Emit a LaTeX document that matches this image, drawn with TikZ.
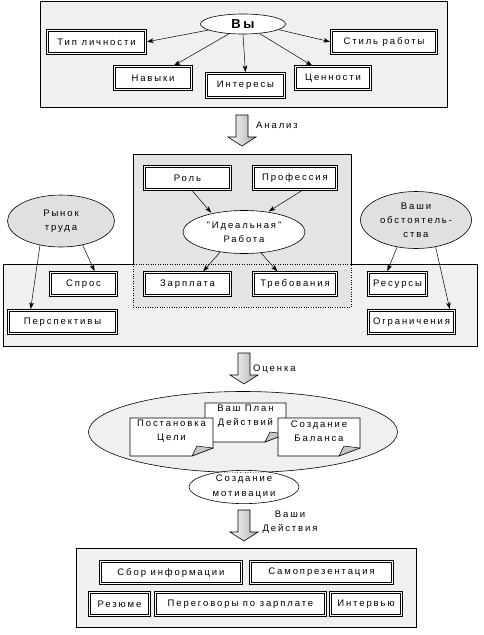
\documentclass[tikz,border=0pt]{standalone}
\usepackage{fontspec}
\setmainfont{Liberation Sans}[LetterSpace=20]
\usepackage{xcolor}
\usetikzlibrary{arrows,arrows.meta,shapes.geometric}
\definecolor{panelgray}{HTML}{F0F0F0}
\definecolor{rolegray}{HTML}{E4E4E4}
\definecolor{ovalgray}{HTML}{E0E0E0}
\tikzset{every node/.style={font=\fontsize{9.5}{14}\selectfont,inner sep=0pt}}
\tikzset{factor/.style={draw,double,double distance=1.6pt,line width=0.6pt,fill=white,minimum height=23.2pt}}
\tikzset{oval/.style={ellipse,draw,line width=0.6pt,align=center}}
\tikzset{link/.style={->,>={Stealth[length=6.5pt,width=4.5pt,inset=1.5pt]},line width=0.5pt,shorten >=1pt}}
% block arrow pointing down: #1 = x of axis, #2 = top
\newcommand{\bigdown}[2]{%
  \path[draw,line width=0.6pt,left color=white,right color=gray!65]
    (#1-6,#2) -- (#1+6,#2) -- (#1+6,#2+22) -- (#1+14,#2+22) -- (#1,#2+31)
    -- (#1-14,#2+22) -- (#1-6,#2+22) -- cycle;}
% sheet with folded corner: name, x0, y0, x1, y1, text
\newcommand{\plandoc}[6]{%
  \path[draw,line width=0.6pt,fill=white] (#2,#3) -- (#4,#3) -- (#4,#5-8)
    -- (#4-21,#5) -- (#2,#5) -- cycle;
  \path[draw,line width=0.5pt,fill=gray!45] (#4-21,#5) -- (#4-16,#5-10) -- (#4,#5-8) -- cycle;
  \node[align=center] (#1) at ({(#2+#4)/2},#3+13.5) {#6};}

\begin{document}
\begin{tikzpicture}[x=1pt,y=-1pt]
\useasboundingbox (0,0) rectangle (483,635);
% panels
\path[draw,line width=0.6pt,fill=panelgray] (40,1) rectangle (447,107);
\path[draw,line width=0.6pt,fill=panelgray] (3,264) rectangle (477,346);
\path[fill=rolegray] (133,154) rectangle (351,307);
\draw[line width=0.6pt] (133,264) -- (133,154) -- (351,154) -- (351,264);
\draw[dotted] (133,264) -- (133,307) -- (351,307) -- (351,264) -- cycle;
\path[draw,line width=0.6pt,fill=panelgray] (76,548) rectangle (416,627);
%
% you
\node (vy) [oval,fill=white,minimum width=85pt,minimum height=20pt,
  font=\fontsize{13}{14}\selectfont\bfseries] at (243,24) {Вы};
\node (tip) [factor,minimum width=98.2pt] at (96.5,42) {Тип личности};
\node (stil) [factor,minimum width=105.2pt] at (384,42) {Стиль работы};
\node (navyki) [factor,minimum width=77.2pt] at (153,78) {Навыки};
\node (interesy) [factor,minimum width=78.2pt,minimum height=24.2pt] at (245.5,85.5) {Интересы};
\node (tsennosti) [factor,minimum width=75.2pt] at (333,78) {Ценности};
%
\path[link] (vy.190) edge (tip.east);
\path[link] (vy.215) edge ([xshift=20pt]navyki.north);
\path[link] (vy.south) edge (interesy.north);
\path[link] (vy.330) edge ([xshift=-20pt]tsennosti.north);
\path[link] (vy.351) edge (stil.west);
%
\bigdown{242}{115}
\node (analiz) [anchor=west] at (256,125) {Анализ};
%
% ideal job
\node (rol) [factor,minimum width=86.2pt] at (187.5,178) {Роль};
\node (prof) [factor,minimum width=83.2pt] at (295,178) {Профессия};
\node (ideal) [oval,fill=white,minimum width=122pt,minimum height=43pt] at (244,232)
  {"Идеальная"\\Работа};
\node (zarplata) [factor,minimum width=86.2pt] at (187.5,284) {Зарплата};
\node (treb) [factor,minimum width=83.2pt] at (295,284) {Требования};
%
\path[link] ([xshift=4pt]rol.south) edge (ideal.150);
\path[link] ([xshift=8pt]prof.south) edge (ideal.40);
\path[link] (ideal.220) edge ([xshift=15pt]zarplata.north);
\path[link] (ideal.309) edge ([xshift=-17pt]treb.north);
%
% market
\node (rynok) [oval,fill=ovalgray,minimum width=107pt,minimum height=52pt] at (61,221)
  {Рынок\\труда};
\node (spros) [factor,minimum width=66.2pt] at (83.5,284) {Спрос};
\node (persp) [factor,minimum width=108.2pt] at (62.5,322) {Перспективы};
\path[link] (rynok.312) edge ([xshift=11.5pt]spros.north);
\path[link] (rynok.229) edge ([xshift=-32pt]persp.north);
%
% circumstances
\node (vashi) [oval,fill=ovalgray,minimum width=111pt,minimum height=57pt] at (416,220)
  {Ваши\\обстоятель-\\ства};
\node (resursy) [factor,minimum width=58.2pt] at (397.5,284) {Ресурсы};
\node (ogran) [factor,minimum width=86.2pt] at (411.5,322) {Ограничения};
\path[link] (vashi.235) edge ([xshift=-10.5pt]resursy.north);
\path[link] (vashi.306) edge ([xshift=38.5pt]ogran.north);
%
\bigdown{244}{353}
\node (otsenka) [anchor=west] at (253,369) {Оценка};
%
% action plan
\node (plan) [ellipse,draw,line width=0.6pt,fill=panelgray,minimum width=309pt,minimum height=81pt] at (243,432) {};
\plandoc{vashplan}{205}{403}{286}{442}{Ваш План\\Действий}
\plandoc{postanovka}{130}{418}{213}{456}{Постановка\\Цели}
\plandoc{balans}{278}{418}{360}{456}{Создание\\Баланса}
\node (motiv) [oval,fill=white,minimum width=110pt,minimum height=33pt,
  font=\fontsize{9.5}{15}\selectfont] at (244,487) {Создание\\мотивации};
\begin{scope}
  \clip (244,487) ellipse [x radius=54.5, y radius=16];
  \draw[dotted,line width=0.6pt] (243,432) ellipse [x radius=154.5, y radius=40.5];
\end{scope}
%
\bigdown{244}{510}
\node (deystviya) [align=center] at (290,522) {Ваши\\Действия};
%
% actions
\node (sbor) [factor,minimum width=141.2pt,minimum height=22.2pt] at (171,572.5) {Сбор информации};
\node (samopr) [factor,minimum width=142.2pt,minimum height=22.2pt] at (321.5,572.5) {Самопрезентация};
\node (rezyume) [factor,minimum width=60.2pt] at (119.5,604) {Резюме};
\node (peregovory) [factor,minimum width=170.2pt] at (240.5,604) {Переговоры по зарплате};
\node (intervyu) [factor,minimum width=71.2pt] at (366,604) {Интервью};
\end{tikzpicture}
\end{document}
